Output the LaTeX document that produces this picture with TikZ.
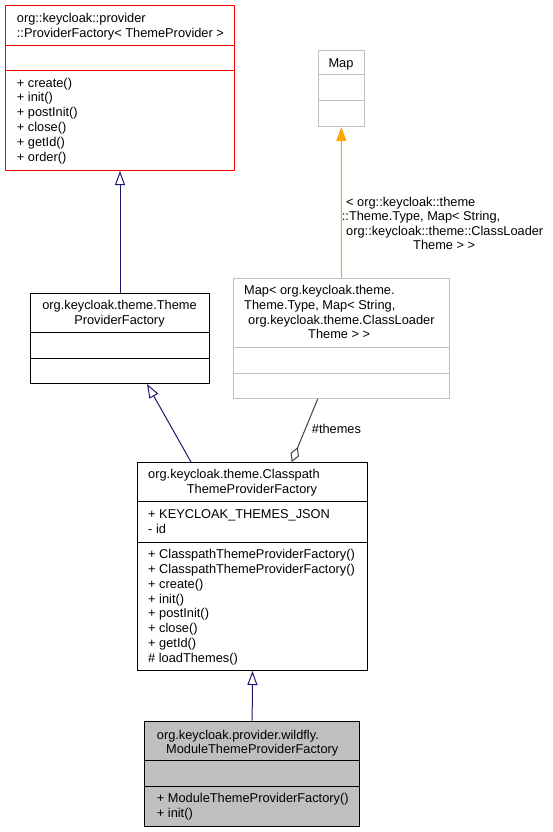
\documentclass[tikz,border=0pt]{standalone}
\usepackage{fontspec}
\setmainfont{Liberation Sans}
\usetikzlibrary{arrows.meta,calc}
\definecolor{navy}{HTML}{191970}
\definecolor{orng}{HTML}{FFA500}
\definecolor{gbord}{HTML}{BFBFBF}
\definecolor{aggc}{HTML}{404040}
\definecolor{ffill}{HTML}{BFBFBF}
\begin{document}
\begin{tikzpicture}[x=1pt,y=-1pt,
  every node/.append style={font=\fontsize{12.8}{14.7}\selectfont},
  box/.style={draw, line width=1pt, inner sep=0, anchor=north west},
  lbl/.style={inner sep=0, anchor=west, text height=9.2pt, text depth=2.8pt, yshift=-2.3pt},
  clbl/.style={inner sep=0, anchor=center, text height=9.2pt, text depth=2.8pt, yshift=-2.3pt},
  divl/.style={line width=1pt},
  inh/.style={draw=navy, line width=1pt, -{Triangle[open,length=14pt,width=10pt,fill=white]}},
  real/.style={draw=orng, line width=1pt, -{Triangle[length=14pt,width=10pt,fill=orng]}},
  aggr/.style={draw=aggc, line width=1pt, -{Diamond[open,length=16pt,width=9pt,fill=white]}}
]
\useasboundingbox (0,0) rectangle (553,832);

% Box A: ProviderFactory
\node[box, draw=red, minimum width=229pt, minimum height=165pt] (A) at (5,5) {};
\draw[divl, red] (A.west |- 0,45.7) -- (A.east |- 0,45.7);
\draw[divl, red] (A.west |- 0,71) -- (A.east |- 0,71);
\node[lbl] (a1) at (16.7,17.3) {org::keycloak::provider};
\node[lbl] (a2) at (16.7,32.3) {::ProviderFactory< ThemeProvider >};
\foreach \t [count=\i] in {+ create(), + init(), + postInit(), + close(), + getId(), + order()}
  \node[lbl] (am\i) at (16.7,{81.7+14.8*(\i-1)}) {\t};

% Box B: ThemeProviderFactory
\node[box, minimum width=179pt, minimum height=90.3pt] (B) at (30,292.7) {};
\draw[divl] (B.west |- 0,332) -- (B.east |- 0,332);
\draw[divl] (B.west |- 0,358) -- (B.east |- 0,358);
\node[clbl] (b1) at (119.5,304.3) {org.keycloak.theme.Theme};
\node[clbl] (b2) at (119.5,319) {ProviderFactory};

% Box C: Map< ... >
\node[box, draw=gbord, minimum width=216pt, minimum height=120pt] (C) at (233,278) {};
\draw[divl, gbord] (C.west |- 0,347) -- (C.east |- 0,347);
\draw[divl, gbord] (C.west |- 0,373) -- (C.east |- 0,373);
\node[lbl] (c1) at (244,289) {Map< org.keycloak.theme.};
\node[lbl] (c2) at (244,304) {Theme.Type, Map< String,};
\node[lbl] (c3) at (248,318.7) {org.keycloak.theme.ClassLoader};
\node[lbl] (c4) at (308,333.3) {Theme > >};

% Box D: Map
\node[box, draw=gbord, minimum width=46.3pt, minimum height=76pt] (D) at (317.7,50) {};
\draw[divl, gbord] (D.west |- 0,75) -- (D.east |- 0,75);
\draw[divl, gbord] (D.west |- 0,100.7) -- (D.east |- 0,100.7);
\node[clbl] (d1) at (341,61.7) {Map};

% Box E: ClasspathThemeProviderFactory
\node[box, minimum width=229.4pt, minimum height=208pt] (E) at (137.3,462) {};
\draw[divl] (E.west |- 0,501.7) -- (E.east |- 0,501.7);
\draw[divl] (E.west |- 0,542.3) -- (E.east |- 0,542.3);
\node[lbl] (e1) at (148,473.3) {org.keycloak.theme.Classpath};
\node[lbl] (e2) at (186.7,488) {ThemeProviderFactory};
\node[lbl] (ea1) at (148,513.3) {+ KEYCLOAK\_THEMES\_JSON};
\node[lbl] (ea2) at (148,528) {- id};
\foreach \t [count=\i] in {+ ClasspathThemeProviderFactory(), + ClasspathThemeProviderFactory(), + create(), + init(), + postInit(), + close(), + getId(), \# loadThemes()}
  \node[lbl] (em\i) at (148,{553.3+14.77*(\i-1)}) {\t};

% Box F: ModuleThemeProviderFactory
\node[box, fill=ffill, minimum width=214.7pt, minimum height=105pt] (F) at (144.3,720.7) {};
\draw[divl] (F.west |- 0,760) -- (F.east |- 0,760);
\draw[divl] (F.west |- 0,786) -- (F.east |- 0,786);
\node[lbl] (f1) at (156.7,733.5) {org.keycloak.provider.wildfly.};
\node[lbl] (f2) at (166,748) {ModuleThemeProviderFactory};
\node[lbl] (fm1) at (156.7,796.7) {+ ModuleThemeProviderFactory()};
\node[lbl] (fm2) at (156.7,811.7) {+ init()};

% Connectors
\draw[inh] (B.north) -- (A.south);
\coordinate (eb) at ($(E.north west)+(53.7,0)$);
\coordinate (be) at ($(B.south west)+(117,0)$);
\draw[inh] (eb) -- (be);
\draw[inh] (F.north) -- (E.south);
\draw[real] (C.north) -- (D.south);
\coordinate (cagg) at ($(C.south west)+(84.7,0)$);
\coordinate (eagg) at ($(E.north west)+(154.4,0)$);
\draw[aggr] (cagg) -- (eagg);

% Edge labels
\node[lbl] (o1) at (346,200.7) {< org::keycloak::theme};
\node[lbl] (o2) at (341.7,215) {::Theme.Type, Map< String,};
\node[lbl] (o3) at (346,229.7) {org::keycloak::theme::ClassLoader};
\node[lbl] (o4) at (413,244.3) {Theme > >};
\node[lbl] (th) at (311.7,428) {\#themes};
\end{tikzpicture}
\end{document}
